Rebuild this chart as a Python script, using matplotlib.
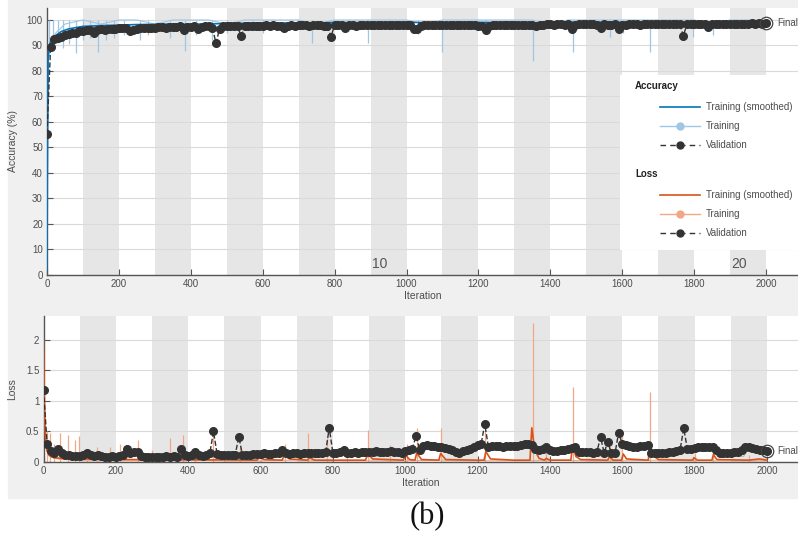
import numpy as np
import matplotlib
matplotlib.use("Agg")
import matplotlib.pyplot as plt
from matplotlib.patches import Rectangle

# ---- data ----
epoch_len = 100
epoch_labels = ["10", "20"]
epoch_label_it = [925, 1925]

# validation every 10 iterations
val_it = np.arange(0, 2001, 10)
val_acc = [
    55.4, 89.5, 92.5, 93.0, 93.5, 94.0, 94.5, 95.0, 95.0, 95.5,
    95.5, 96.0, 96.2, 95.0, 96.0, 96.3, 96.0, 96.5, 96.5, 96.6,
    96.7, 96.8, 97.0, 95.5, 96.0, 96.5, 96.7, 97.0, 97.0, 96.8,
    97.0, 97.2, 97.3, 97.0, 97.2, 97.4, 97.3, 97.5, 96.0, 97.3,
    97.3, 97.5, 96.5, 97.4, 97.6, 97.5, 97.0, 91.0, 96.5, 97.5,
    97.6, 97.5, 97.7, 97.5, 93.7, 97.6, 97.8, 97.7, 97.6, 97.8,
    97.8, 97.9, 97.8, 98.0, 97.8, 97.7, 96.7, 97.8, 97.9, 97.8,
    98.0, 97.9, 98.0, 97.8, 97.9, 98.0, 97.9, 97.8, 97.7, 93.5,
    98.0, 97.9, 98.0, 96.7, 97.9, 98.0, 97.8, 98.0, 97.9, 98.0,
    98.0, 97.9, 98.0, 98.1, 97.9, 98.0, 98.0, 98.1, 98.0, 97.9,
    98.0, 97.9, 96.5, 96.3, 97.8, 97.9, 98.0, 97.9, 98.0, 98.0,
    98.1, 98.0, 97.9, 98.0, 98.1, 98.0, 98.1, 98.0, 97.9, 98.0,
    97.8, 97.5, 96.0, 97.8, 97.9, 98.0, 98.1, 98.0, 98.1, 98.0,
    98.1, 98.2, 98.0, 98.1, 98.2, 98.0, 97.8, 98.1, 98.2, 98.3,
    98.3, 98.2, 98.3, 98.4, 98.2, 98.3, 96.5, 98.2, 98.3, 98.4,
    98.3, 98.4, 98.3, 98.2, 97.0, 98.3, 98.0, 98.2, 98.3, 96.5,
    98.0, 98.2, 98.3, 98.4, 98.3, 98.2, 98.4, 98.3, 98.4, 98.5,
    98.4, 98.3, 98.4, 98.5, 98.4, 98.3, 98.4, 93.8, 98.3, 98.4,
    98.5, 98.4, 98.3, 98.4, 97.3, 98.4, 98.5, 98.4, 98.5, 98.6,
    98.5, 98.6, 98.5, 98.6, 98.5, 98.6, 98.7, 98.6, 98.7, 98.6,
    98.7,
]
val_loss = [
    1.18, 0.30, 0.18, 0.15, 0.21, 0.14, 0.12, 0.11, 0.10, 0.10,
    0.10, 0.11, 0.15, 0.11, 0.10, 0.12, 0.10, 0.09, 0.09, 0.10,
    0.09, 0.10, 0.12, 0.22, 0.14, 0.17, 0.16, 0.10, 0.09, 0.09,
    0.08, 0.09, 0.08, 0.09, 0.10, 0.09, 0.10, 0.09, 0.22, 0.11,
    0.10, 0.11, 0.16, 0.11, 0.10, 0.11, 0.15, 0.50, 0.13, 0.11,
    0.11, 0.12, 0.11, 0.12, 0.41, 0.12, 0.11, 0.12, 0.13, 0.13,
    0.13, 0.14, 0.13, 0.13, 0.14, 0.15, 0.20, 0.14, 0.13, 0.14,
    0.14, 0.13, 0.14, 0.15, 0.14, 0.14, 0.15, 0.14, 0.16, 0.56,
    0.15, 0.15, 0.16, 0.20, 0.15, 0.15, 0.16, 0.15, 0.16, 0.17,
    0.17, 0.16, 0.18, 0.17, 0.16, 0.17, 0.18, 0.17, 0.16, 0.15,
    0.18, 0.20, 0.22, 0.43, 0.20, 0.26, 0.28, 0.27, 0.26, 0.25,
    0.24, 0.23, 0.22, 0.20, 0.17, 0.15, 0.18, 0.20, 0.22, 0.25,
    0.28, 0.30, 0.62, 0.25, 0.26, 0.26, 0.26, 0.25, 0.26, 0.26,
    0.26, 0.27, 0.28, 0.29, 0.30, 0.28, 0.22, 0.20, 0.22, 0.25,
    0.20, 0.18, 0.18, 0.19, 0.20, 0.21, 0.23, 0.25, 0.17, 0.16,
    0.16, 0.16, 0.15, 0.16, 0.41, 0.15, 0.33, 0.14, 0.14, 0.48,
    0.30, 0.28, 0.26, 0.25, 0.25, 0.26, 0.27, 0.28, 0.14, 0.14,
    0.14, 0.15, 0.14, 0.16, 0.17, 0.18, 0.20, 0.55, 0.22, 0.22,
    0.23, 0.24, 0.25, 0.24, 0.25, 0.24, 0.20, 0.15, 0.14, 0.15,
    0.15, 0.16, 0.17, 0.20, 0.24, 0.25, 0.23, 0.21, 0.20, 0.19,
    0.18,
]

# smoothed training accuracy
acc_s_it = [0, 1, 3, 6, 10, 20, 40, 60, 80, 100,
            150, 200, 250, 300, 350, 400, 450, 500, 550, 600,
            650, 700, 750, 800, 850, 900, 950, 1000, 1050, 1100,
            1150, 1200, 1250, 1300, 1350, 1400, 1450, 1500, 1550, 1600,
            1650, 1700, 1750, 1800, 1850, 1900, 1950, 2000]
acc_s = [2, 40, 85, 89.5, 91.5, 93.5, 95.5, 96.5, 97.0, 97.5,
         97.8, 98.0, 98.2, 98.3, 98.4, 98.3, 98.5, 98.6, 98.7, 98.8,
         98.8, 98.9, 98.9, 99.0, 99.0, 98.9, 99.0, 99.1, 99.0, 98.8,
         99.1, 99.1, 99.0, 99.2, 98.6, 99.1, 99.2, 98.9, 99.2, 99.1,
         99.2, 98.9, 99.3, 99.2, 99.2, 99.3, 99.4, 99.4]

# raw training accuracy: baseline + downward spikes
acc_raw_it = [0, 2, 4, 10, 25, 50, 100, 150, 200, 250, 300, 350, 400,
              450, 500, 550, 600, 650, 700, 750, 800, 850, 900, 950,
              1000, 1050, 1100, 1150, 1200, 1250, 1300, 1350, 1400,
              1450, 1500, 1550, 1600, 1650, 1700, 1750, 1800, 1850,
              1900, 1950, 2000]
acc_raw = [3, 60, 85, 92, 95, 98.4, 100, 98.4, 100, 100, 98.4, 100, 100,
           100, 98.4, 100, 100, 100, 100, 98.4, 100, 100, 100, 100,
           100, 98.4, 100, 100, 100, 100, 100, 100, 98.4, 100,
           100, 100, 100, 100, 100, 100, 100, 98.4, 100, 100, 100]
acc_dip_it = [5, 17, 30, 45, 62, 80, 100, 120, 143, 165, 185, 213, 259,
              280, 341, 384, 414, 460, 500, 574, 602, 736, 893, 1032,
              1099, 1222, 1352, 1464, 1566, 1602, 1677, 1797, 1853]
acc_dip = [86, 89, 91, 89, 90.5, 87, 92, 93, 87.6, 92, 93, 94, 92,
           94, 93, 88, 94, 92, 95, 96, 95, 91, 91, 94.5,
           87.6, 95, 84, 87.6, 93.5, 95, 87.6, 93.5, 94]

# smoothed training loss
loss_s_it = [0, 2, 4, 7, 10, 15, 20, 30, 50, 80, 100, 150, 200, 300, 400,
             500, 590, 597, 610, 660, 668, 680, 730, 735, 750, 800, 890,
             897, 910, 995, 1000, 1012, 1027, 1032, 1045, 1093, 1098, 1112,
             1200, 1218, 1223, 1236, 1300, 1345, 1350, 1358, 1370, 1385,
             1390, 1400, 1458, 1463, 1472, 1485, 1560, 1565, 1575, 1598,
             1603, 1612, 1672, 1677, 1686, 1700, 1795, 1798, 1808, 1848,
             1852, 1862, 1950, 1980, 2000]
loss_s = [2.0, 1.2, 0.6, 0.3, 0.18, 0.12, 0.09, 0.07, 0.06, 0.06, 0.05,
          0.05, 0.04, 0.04, 0.035, 0.035, 0.03, 0.08, 0.04, 0.03, 0.15,
          0.05, 0.03, 0.07, 0.03, 0.03, 0.03, 0.13, 0.05, 0.03, 0.12,
          0.04, 0.03, 0.15, 0.04, 0.03, 0.14, 0.04, 0.03, 0.03, 0.17,
          0.05, 0.03, 0.03, 0.56, 0.20, 0.06, 0.03, 0.06, 0.03, 0.03,
          0.27, 0.09, 0.04, 0.03, 0.09, 0.03, 0.03, 0.13, 0.05, 0.03,
          0.30, 0.10, 0.04, 0.03, 0.07, 0.03, 0.03, 0.12, 0.04, 0.03,
          0.05, 0.03]

# raw training loss: baseline + upward spikes
loss_raw_it = [0, 3, 8, 15, 30, 50, 100, 200, 300, 400, 500, 600, 700,
               800, 900, 1000, 1100, 1200, 1300, 1400, 1500, 1600, 1700,
               1800, 1900, 2000]
loss_raw = [2.0, 0.8, 0.2, 0.1, 0.06, 0.04, 0.03, 0.02, 0.02, 0.03,
            0.02, 0.02, 0.03, 0.02, 0.02, 0.02, 0.03, 0.02, 0.02, 0.03,
            0.02, 0.02, 0.03, 0.02, 0.02, 0.02]
loss_spk_it = [9, 18, 30, 46, 68, 86, 98, 120, 147, 184, 211, 262, 300,
               350, 386, 420, 469, 500, 543, 600, 668, 731, 783, 840, 897,
               957, 1004, 1032, 1098, 1222, 1352, 1389, 1463, 1565, 1600,
               1677, 1800, 1852, 1950]
loss_spk = [0.5, 0.47, 0.3, 0.47, 0.44, 0.36, 0.42, 0.2, 0.25, 0.25, 0.3,
            0.36, 0.2, 0.39, 0.44, 0.2, 0.47, 0.15, 0.25, 0.2, 0.3, 0.47,
            0.4, 0.15, 0.52, 0.28, 0.3, 0.55, 0.56, 0.5, 2.28, 0.2, 1.23,
            0.25, 0.5, 1.15, 0.15, 0.2, 0.12]

# ---- styling ----
W, H = 798, 538
c_acc = "#0072BD"
c_acc_raw = "#9fc6e4"
c_loss = "#D95319"
c_loss_raw = "#f0a887"
c_val = "#333333"
c_band = "#e6e6e6"
c_txt = "#4d4d4d"
plt.rcParams["font.family"] = ["Liberation Sans", "DejaVu Sans"]

fig = plt.figure(figsize=(W / 100, H / 100), dpi=100, facecolor="white")
fig.patches.append(Rectangle((8 / W, 1 - 498 / H), 790 / W, 498 / H,
                             transform=fig.transFigure, color="#f0f0f0",
                             zorder=-10))


def px_axes(left, top, right, bottom):
    return fig.add_axes([left / W, 1 - bottom / H, (right - left) / W,
                         (bottom - top) / H])


def style(ax, xmax, ymax, yticks, ylabel):
    ax.set_facecolor("white")
    ax.set_xlim(0, xmax)
    ax.set_ylim(0, ymax)
    for e in range(1, 20, 2):
        ax.axvspan(e * epoch_len, (e + 1) * epoch_len, color=c_band,
                   lw=0, zorder=0)
    ax.set_yticks(yticks)
    ax.set_xticks(range(0, 2001, 200))
    ax.yaxis.grid(True, color="#dadada", lw=0.8, zorder=0.5)
    ax.set_axisbelow(True)
    for s in ["top", "right"]:
        ax.spines[s].set_visible(False)
    for s in ["left", "bottom"]:
        ax.spines[s].set_color("#555555")
        ax.spines[s].set_linewidth(1.0)
    ax.tick_params(direction="in", length=4, width=0.8, color="#555555",
                   labelcolor=c_txt, labelsize=7, pad=3)
    ax.set_xlabel("Iteration", fontsize=7.5, color=c_txt, labelpad=1)
    ax.set_ylabel(ylabel, fontsize=7.5, color=c_txt, labelpad=6)


# ---- accuracy ----
ax1 = px_axes(47, 8, 798, 275)
style(ax1, 2089, 104.7, range(0, 101, 10), "Accuracy (%)")
ax1.plot(acc_raw_it, acc_raw, color=c_acc_raw, lw=0.8, zorder=2)
ax1.vlines(acc_dip_it, acc_dip, 100, color=c_acc_raw, lw=0.9, zorder=2)
ax1.plot(acc_s_it, acc_s, color=c_acc, lw=1.2, zorder=3)
ax1.plot(val_it, val_acc, ls="--", color=c_val, lw=1.0, marker="o", ms=5.5,
         mfc=c_val, mec=c_val, zorder=4)
ax1.plot(val_it[-1], val_acc[-1], marker="o", ms=9, mfc="none",
         mec="#444444", mew=0.9, zorder=5)
ax1.text(2030, val_acc[-1], "Final", fontsize=7, color=c_txt,
         va="center", ha="left")
for lab, it in zip(epoch_labels, epoch_label_it):
    ax1.text(it, 4.5, lab, fontsize=10, color="#555555", ha="center",
             va="center", zorder=1)

# ---- loss ----
ax2 = px_axes(43.5, 316, 798, 462)
style(ax2, 2086, 2.39, [0, 0.5, 1, 1.5, 2], "Loss")
ax2.set_yticklabels(["0", "0.5", "1", "1.5", "2"])
ax2.plot(loss_raw_it, loss_raw, color=c_loss_raw, lw=0.8, zorder=2)
ax2.vlines(loss_spk_it, 0, loss_spk, color=c_loss_raw, lw=0.9, zorder=2)
ax2.plot(loss_s_it, loss_s, color=c_loss, lw=1.2, zorder=3)
for lab, it in zip(epoch_labels, epoch_label_it):
    ax2.text(it, 0.13, lab, fontsize=9, color="#b5b5b5", ha="center",
             va="center", zorder=1)
ax2.plot(val_it, val_loss, ls="--", color=c_val, lw=1.0, marker="o", ms=5.5,
         mfc=c_val, mec=c_val, zorder=4)
ax2.plot(val_it[-1], val_loss[-1], marker="o", ms=9, mfc="none",
         mec="#444444", mew=0.9, zorder=5)
ax2.text(2030, val_loss[-1], "Final", fontsize=7, color=c_txt,
         va="center", ha="left")

# ---- legend panel ----
lg = px_axes(620, 75, 798, 250)
lg.set_xlim(620, 798)
lg.set_ylim(250, 75)
lg.set_facecolor("white")
lg.set_xticks([])
lg.set_yticks([])
for s in lg.spines.values():
    s.set_visible(False)
groups = [("Accuracy", 86, c_acc, c_acc_raw), ("Loss", 174, c_loss, c_loss_raw)]
for title, y0, cs, cr in groups:
    lg.text(635, y0, title, fontsize=7, fontweight="bold", color="#222222",
            va="center")
    ys = [y0 + 21, y0 + 40, y0 + 59]
    lg.plot([660, 700], [ys[0], ys[0]], color=cs, lw=1.2)
    lg.plot([660, 700], [ys[1], ys[1]], color=cr, lw=1.0)
    lg.plot([680], [ys[1]], marker="o", ms=5, color=cr)
    lg.plot([660, 700], [ys[2], ys[2]], color=c_val, lw=1.0, ls=(0, (4, 3)))
    lg.plot([680], [ys[2]], marker="o", ms=5, color=c_val)
    for y, t in zip(ys, ["Training (smoothed)", "Training", "Validation"]):
        lg.text(706, y, t, fontsize=7, color=c_txt, va="center")

fig.text(427 / W, 1 - 517 / H, "(b)", fontsize=22, ha="center", va="center",
         family=["Liberation Serif", "DejaVu Serif"], color="#111111")

fig.savefig("out.png", dpi=100, facecolor="white")
